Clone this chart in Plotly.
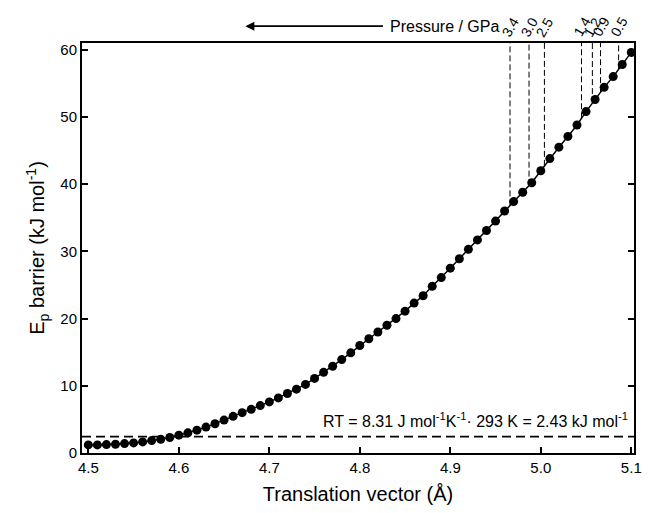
import numpy as np
import plotly.graph_objects as go

# Data: translation vector (Å) and Ep barrier (kJ/mol)
translation = [round(4.50 + 0.01 * i, 2) for i in range(61)]
barrier = [
    1.2, 1.2, 1.25, 1.3, 1.4, 1.5, 1.65, 1.85, 2.05, 2.3,   # 4.50-4.59
    2.65, 3.0, 3.4, 3.85, 4.35, 4.9, 5.45, 6.0, 6.5, 7.05,  # 4.60-4.69
    7.6, 8.2, 8.85, 9.5, 10.2, 11.1, 12.0, 12.9, 13.9, 14.9,  # 4.70-4.79
    16.0, 17.0, 18.0, 19.0, 20.0, 21.1, 22.3, 23.4, 24.8, 26.1,  # 4.80-4.89
    27.5, 28.9, 30.3, 31.7, 33.1, 34.5, 36.0, 37.4, 38.8, 40.2,  # 4.90-4.99
    42.0, 43.8, 45.5, 47.1, 48.8, 50.8, 52.6, 54.4, 56.0, 57.8,  # 5.00-5.09
    59.6,  # 5.10
]

pressure_labels = ["3.4", "3.0", "2.5", "1.4", "1.2", "0.9", "0.5"]
pressure_x = [4.966, 4.987, 5.004, 5.045, 5.057, 5.066, 5.086]

rt_value = 2.43
x_range = [4.493, 5.103]
y_range = [0, 61]
x_ticks = [4.5, 4.6, 4.7, 4.8, 4.9, 5.0, 5.1]
x_ticktext = ["4.5", "4.6", "4.7", "4.8", "4.9", "5.0", "5.1"]
y_ticks = [0, 10, 20, 30, 40, 50, 60]

FONT = "Liberation Sans, Arial, sans-serif"

fig = go.Figure()

# RT dashed horizontal line
fig.add_trace(go.Scatter(
    x=x_range, y=[rt_value, rt_value], mode="lines",
    line=dict(color="black", width=1.8, dash="9px,5px"),
    hoverinfo="skip", showlegend=False,
))

# Vertical pressure lines from curve to top
for px in pressure_x:
    yc = float(np.interp(px, translation, barrier))
    fig.add_trace(go.Scatter(
        x=[px, px], y=[yc, y_range[1]], mode="lines",
        line=dict(color="black", width=1, dash="6px,3px"),
        hoverinfo="skip", showlegend=False,
    ))

# Main curve
fig.add_trace(go.Scatter(
    x=translation, y=barrier, mode="lines+markers",
    line=dict(color="black", width=1.5),
    marker=dict(color="black", size=9),
    showlegend=False,
))

annotations = []
for lab, px in zip(pressure_labels, pressure_x):
    annotations.append(dict(
        x=px, y=1.0, xref="x", yref="paper", text=lab, showarrow=False,
        textangle=-60, xanchor="center", yanchor="bottom", yshift=1,
        font=dict(family=FONT, size=14, color="black"),
    ))

# Arrow pointing left
annotations.append(dict(
    x=0.296, y=1.041, ax=139, ay=0, xref="paper", yref="paper",
    axref="pixel", ayref="pixel", text="", showarrow=True,
    arrowhead=2, arrowsize=1, arrowwidth=1.8, arrowcolor="black",
))
annotations.append(dict(
    x=0.555, y=1.041, xref="paper", yref="paper", text="Pressure / GPa",
    showarrow=False, xanchor="left", yanchor="middle",
    font=dict(family=FONT, size=16, color="black"),
))
annotations.append(dict(
    x=0.993, y=0.080, xref="paper", yref="paper",
    text="RT = 8.31 J mol<sup>-1</sup>K<sup>-1</sup>· 293 K = 2.43 kJ mol<sup>-1</sup>",
    showarrow=False, xanchor="right", yanchor="middle",
    font=dict(family=FONT, size=16, color="black"),
))

fig.update_layout(
    width=649, height=513,
    margin=dict(l=82, r=7, t=43, b=60),
    paper_bgcolor="white", plot_bgcolor="white",
    font=dict(family=FONT, size=15, color="black"),
    annotations=annotations,
    xaxis=dict(
        range=x_range, tickvals=x_ticks, ticktext=x_ticktext,
        ticks="inside", ticklen=6, tickwidth=1.5, tickcolor="black",
        showline=True, linecolor="black", linewidth=2, mirror=True,
        showgrid=False, zeroline=False,
        tickfont=dict(family=FONT, size=15),
        title=dict(text="Translation vector (Å)", font=dict(family=FONT, size=20), standoff=12),
    ),
    yaxis=dict(
        range=y_range, tickvals=y_ticks,
        ticks="inside", ticklen=6, tickwidth=1.5, tickcolor="black",
        showline=True, linecolor="black", linewidth=2, mirror="ticks",
        showgrid=False, zeroline=False,
        tickfont=dict(family=FONT, size=15),
        title=dict(text="E<sub>p</sub> barrier (kJ mol<sup>-1</sup>)", font=dict(family=FONT, size=20), standoff=10),
    ),
)

fig.write_html("out.html")
